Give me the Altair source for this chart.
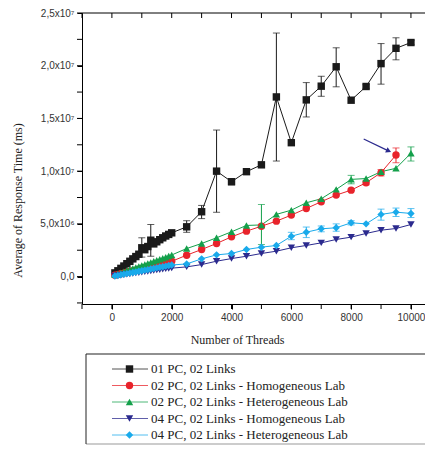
import altair as alt
import pandas as pd

# ---------------- data ----------------
series_names = [
    "01 PC, 02 Links",
    "02 PC, 02 Links - Homogeneous Lab",
    "02 PC, 02 Links - Heterogeneous Lab",
    "04 PC, 02 Links - Homogeneous Lab",
    "04 PC, 02 Links - Heterogeneous Lab",
]
series_colors = ["#1a1a1a", "#e8232b", "#14a04b", "#2b2a8e", "#19aaeb"]
series_shapes = ["square", "circle", "triangle-up", "triangle-down", "diamond"]

threads_dense = [100, 200, 300, 400, 500, 600, 700, 800, 900, 1000,
                 1100, 1200, 1300, 1400, 1500, 1600, 1700, 1800, 1900, 2000]
threads_sparse = [2500, 3000, 3500, 4000, 4500, 5000, 5500, 6000,
                  6500, 7000, 7500, 8000, 8500, 9000, 9500, 10000]

# values in units of 10^6 ms
pc1 = [0.35, 0.55, 0.78, 1.0, 1.22, 1.45, 1.68, 1.9, 2.12, 2.73,
       2.55, 2.85, 3.45, 3.1, 3.3, 3.5, 3.68, 3.85, 4.0, 4.15,
       4.72, 6.15, 10.0, 9.0, 9.95, 10.6, 17.04, 12.7, 16.76, 18.06,
       19.9, 16.73, 18.03, 20.2, 21.65, 22.2]
pc2_hom = [0.12, 0.19, 0.27, 0.33, 0.41, 0.48, 0.55, 0.61, 0.69, 0.76,
           0.83, 0.89, 0.97, 1.04, 1.1, 1.18, 1.24, 1.31, 1.38, 1.45,
           2.03, 2.57, 3.14, 3.77, 4.31, 4.78, 5.26, 5.83, 6.46, 7.1,
           7.73, 8.2, 8.9, 9.86, 11.53]
pc2_het = [0.17, 0.27, 0.37, 0.47, 0.57, 0.67, 0.76, 0.86, 0.96, 1.06,
           1.15, 1.25, 1.35, 1.45, 1.55, 1.64, 1.74, 1.84, 1.95, 2.05,
           2.66, 3.14, 3.68, 4.25, 4.85, 4.9, 5.9, 6.3, 7.0, 7.38,
           8.27, 9.22, 9.3, 9.95, 10.27, 11.7]
pc4_hom = [0.05, 0.09, 0.13, 0.17, 0.21, 0.25, 0.29, 0.33, 0.37, 0.41,
           0.45, 0.49, 0.53, 0.57, 0.61, 0.65, 0.69, 0.73, 0.77, 0.8,
           0.92, 1.14, 1.46, 1.71, 1.93, 2.19, 2.41, 2.73, 2.95, 3.2,
           3.52, 3.74, 4.09, 4.4, 4.56, 4.94]
pc4_het = [0.06, 0.11, 0.17, 0.22, 0.28, 0.33, 0.39, 0.44, 0.5, 0.55,
           0.61, 0.66, 0.72, 0.77, 0.83, 0.88, 0.94, 0.99, 1.05, 1.1,
           1.2, 1.68, 2.06, 2.19, 2.57, 2.79, 2.95, 3.83, 4.21, 4.53,
           4.63, 5.1, 5.0, 5.9, 6.11, 5.99]

# error bars: series index, threads, low, high (10^6 ms)
err_series = [0, 0, 0, 0, 0, 0, 0, 0, 0, 0, 0, 0, 0, 0,
              1, 1, 1,
              2, 2, 2,
              4, 4, 4, 4, 4, 4, 4, 4]
err_x = [1000, 1300, 2500, 3000, 3500, 4000, 5500, 6500, 7000, 7500, 8500, 9000, 9500, 10000,
         8500, 9000, 9500,
         5000, 8000, 10000,
         6000, 6500, 7000, 7500, 8000, 9000, 9500, 10000]
err_lo = [1.85, 1.93, 4.2, 5.5, 6.1, 8.7, 10.96, 15.14, 17.1, 18.0, 17.85, 18.25, 20.56, 22.0,
          8.7, 9.55, 10.8,
          3.04, 8.8, 10.96,
          3.5, 3.7, 4.25, 4.3, 4.9, 5.35, 5.7, 5.6]
err_hi = [3.68, 4.94, 5.3, 6.75, 13.9, 9.3, 23.1, 18.4, 19.0, 21.7, 18.2, 22.1, 22.65, 22.4,
          9.1, 10.15, 12.2,
          6.84, 9.6, 12.3,
          4.2, 4.7, 4.8, 5.0, 5.3, 6.4, 6.5, 6.45]

# annotation arrow (threads, ms 10^6)
arrow_from = [8420, 13.05]
arrow_to = [9230, 11.95]

x_major = [0, 2000, 4000, 6000, 8000, 10000]
x_all_ticks = [-1000, 0, 1000, 2000, 3000, 4000, 5000, 6000, 7000, 8000, 9000, 10000]
y_major = [0, 5e6, 1e7, 1.5e7, 2e7, 2.5e7]
y_all_ticks = [-2.5e6, 0, 2.5e6, 5e6, 7.5e6, 1e7, 1.25e7, 1.5e7, 1.75e7, 2e7, 2.25e7, 2.5e7]

# ---------------- tables ----------------
all_vals = [pc1, pc2_hom, pc2_het, pc4_hom, pc4_het]
rows = []
for i, vals in enumerate(all_vals):
    xs = (threads_dense + threads_sparse)[:len(vals)]
    for xv, yv in zip(xs, vals):
        rows.append({"series": series_names[i], "x": xv, "y": yv * 1e6, "ord": i})
df = pd.DataFrame(rows)

err_df = pd.DataFrame({
    "series": [series_names[i] for i in err_series],
    "x": err_x,
    "lo": [v * 1e6 for v in err_lo],
    "hi": [v * 1e6 for v in err_hi],
})
arrow_df = pd.DataFrame({"x": [arrow_from[0]], "y": [arrow_from[1] * 1e6],
                         "x2": [arrow_to[0]], "y2": [arrow_to[1] * 1e6]})
head_df = pd.DataFrame({"x": [arrow_to[0]], "y": [arrow_to[1] * 1e6]})
xt_df = pd.DataFrame({"x": x_all_ticks})
yt_df = pd.DataFrame({"y": y_all_ticks})
leg_df = pd.DataFrame({"series": series_names})

# ---------------- chart ----------------
W, H = 343, 291
SANS = "Liberation Sans"
SERIF = "Liberation Serif"

xscale = alt.Scale(domain=[-1000, 10470], nice=False, zero=False)
yscale = alt.Scale(domain=[-2.6e6, 2.5e7], nice=False, zero=False)
cscale = alt.Scale(domain=series_names, range=series_colors)
sscale = alt.Scale(domain=series_names, range=series_shapes)

y_label_expr = (
    "datum.value == 0 ? '0,0' : "
    "datum.value == 5000000 ? '5,0x10\u2076' : "
    "datum.value == 10000000 ? '1,0x10\u2077' : "
    "datum.value == 15000000 ? '1,5x10\u2077' : "
    "datum.value == 20000000 ? '2,0x10\u2077' : "
    "datum.value == 25000000 ? '2,5x10\u2077' : ''"
)

xaxis = alt.Axis(values=x_major, format="d", labelOverlap=False,
                 grid=False, tickSize=5, tickColor="black", domainColor="black",
                 labelFont=SANS, labelFontSize=10, labelColor="#333", labelPadding=3,
                 title="Number of Threads", titleFont=SERIF, titleFontSize=12,
                 titleFontWeight="normal", titleColor="#222",
                 titleX=155, titleY=30, titleAlign="center", titleBaseline="top")
yaxis = alt.Axis(values=y_major, labelExpr=y_label_expr, labelOverlap=False,
                 grid=False, tickSize=5, tickColor="black", domainColor="black",
                 labelFont=SANS, labelFontSize=10, labelColor="#333", labelPadding=3,
                 title="Average of Response Time (ms)", titleFont=SERIF, titleFontSize=12,
                 titleFontWeight="normal", titleColor="#222", titleAngle=270,
                 titleX=-65, titleY=187, titleAlign="center", titleBaseline="middle")

X = alt.X("x:Q", scale=xscale, axis=xaxis)
Y = alt.Y("y:Q", scale=yscale, axis=yaxis)
C = alt.Color("series:N", scale=cscale, legend=None)

lines = alt.Chart(df).mark_line(strokeWidth=1).encode(
    x=X, y=Y, color=C, detail="series:N", order="x:Q")

err_rule = alt.Chart(err_df).mark_rule(strokeWidth=1).encode(
    x="x:Q", y="lo:Q", y2="hi:Q", color=C)
err_lo_tick = alt.Chart(err_df).mark_tick(orient="horizontal", size=7, thickness=1).encode(
    x="x:Q", y="lo:Q", color=C)
err_hi_tick = alt.Chart(err_df).mark_tick(orient="horizontal", size=7, thickness=1).encode(
    x="x:Q", y="hi:Q", color=C)

points = alt.Chart(df).mark_point(filled=True, opacity=1, size=55).encode(
    x="x:Q", y="y:Q", color=C,
    shape=alt.Shape("series:N", scale=sscale, legend=None),
    order="ord:Q")

arrow_line = alt.Chart(arrow_df).mark_rule(color="#2b2a8e", strokeWidth=1.2).encode(
    x="x:Q", y="y:Q", x2="x2:Q", y2="y2:Q")
arrow_head = alt.Chart(head_df).mark_point(shape="triangle", filled=True, opacity=1,
                                           size=35, angle=114, color="#2b2a8e").encode(
    x="x:Q", y="y:Q")

# all tick marks (major + minor) along the frame
top_ticks = alt.Chart(xt_df).mark_rule(color="black", strokeWidth=1).encode(
    x="x:Q", y=alt.value(0), y2=alt.value(5))
bot_ticks = alt.Chart(xt_df).mark_rule(color="black", strokeWidth=1).encode(
    x="x:Q", y=alt.value(H), y2=alt.value(H + 5))
left_ticks = alt.Chart(yt_df).mark_rule(color="black", strokeWidth=1).encode(
    y="y:Q", x=alt.value(-5), x2=alt.value(0))
top_line = alt.Chart(xt_df.head(1)).mark_rule(color="black", strokeWidth=1).encode(
    x=alt.value(0), x2=alt.value(W), y=alt.value(0))

main = alt.layer(lines, err_rule, err_lo_tick, err_hi_tick, points,
                 arrow_line, arrow_head, top_ticks, bot_ticks, left_ticks, top_line)

# ---------------- legend (below the plot) ----------------
LY = alt.Y("series:N", scale=alt.Scale(type="point", domain=series_names,
                                       range=[356, 422], padding=0), axis=None)
one = leg_df.head(1)
box_top = alt.Chart(one).mark_rule(color="#222", strokeWidth=1.2).encode(
    x=alt.value(4), x2=alt.value(W + 30), y=alt.value(341))
box_bottom = alt.Chart(one).mark_rule(color="#999", strokeWidth=1.2).encode(
    x=alt.value(4), x2=alt.value(W + 30), y=alt.value(431))
box_left = alt.Chart(one).mark_rule(color="#222", strokeWidth=1).encode(
    x=alt.value(4), y=alt.value(341), y2=alt.value(431))
leg_line = alt.Chart(leg_df).mark_rule(strokeWidth=1, opacity=0.75).encode(
    x=alt.value(30), x2=alt.value(66), y=LY, color=C)
leg_pt = alt.Chart(leg_df).mark_point(filled=True, opacity=1, size=55).encode(
    x=alt.value(47.5), y=LY, color=C,
    shape=alt.Shape("series:N", scale=sscale, legend=None))
leg_txt = alt.Chart(leg_df).mark_text(align="left", baseline="middle", font=SERIF,
                                      fontSize=13, color="#222").encode(
    x=alt.value(69), y=LY, text="series:N")
legend = alt.layer(box_top, box_bottom, box_left, leg_line, leg_pt, leg_txt)

chart = alt.layer(main, legend).resolve_scale(y="independent").properties(
    width=W, height=H,
    autosize=alt.AutoSizeParams(type="none"),
    padding={"left": 74, "top": 5, "right": 0, "bottom": 141},
).configure_view(stroke=None)

chart.save("out.html", embed_options={"renderer": "svg", "actions": False})
